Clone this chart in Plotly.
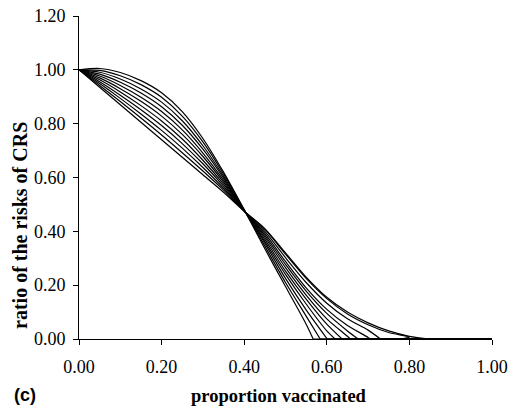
import plotly.graph_objects as go

# proportion vaccinated (x grid) and the family of risk-ratio curves
x_grid = [0.00, 0.05, 0.10, 0.15, 0.20, 0.25, 0.30, 0.35, 0.40, 0.45,
          0.50, 0.55, 0.60, 0.65, 0.70, 0.75, 0.80, 0.85]

curve_0 = [1.000, 1.005, 0.990, 0.960, 0.915, 0.845, 0.745, 0.620, 0.480, 0.335,
           0.195, 0.055]
curve_1 = [1.000, 0.998, 0.978, 0.945, 0.898, 0.828, 0.732, 0.613, 0.480, 0.345,
           0.210, 0.085]
curve_2 = [1.000, 0.991, 0.966, 0.929, 0.880, 0.811, 0.718, 0.605, 0.479, 0.355,
           0.225, 0.108]
curve_3 = [1.000, 0.984, 0.954, 0.914, 0.863, 0.794, 0.705, 0.598, 0.478, 0.362,
           0.240, 0.130, 0.030]
curve_4 = [1.000, 0.977, 0.942, 0.898, 0.845, 0.777, 0.691, 0.590, 0.477, 0.370,
           0.252, 0.148, 0.055]
curve_5 = [1.000, 0.970, 0.930, 0.883, 0.828, 0.760, 0.678, 0.583, 0.477, 0.378,
           0.265, 0.163, 0.075, 0.010]
curve_6 = [1.000, 0.963, 0.918, 0.867, 0.810, 0.743, 0.664, 0.575, 0.476, 0.385,
           0.277, 0.178, 0.095, 0.030]
curve_7 = [1.000, 0.956, 0.906, 0.852, 0.793, 0.726, 0.651, 0.568, 0.476, 0.392,
           0.288, 0.190, 0.110, 0.050, 0.006]
curve_8 = [1.000, 0.949, 0.894, 0.836, 0.775, 0.709, 0.637, 0.560, 0.475, 0.400,
           0.302, 0.210, 0.133, 0.075, 0.033]
curve_9 = [1.000, 0.942, 0.882, 0.821, 0.758, 0.692, 0.624, 0.553, 0.475, 0.407,
           0.315, 0.225, 0.150, 0.093, 0.053, 0.024, 0.007]
curve_10 = [1.000, 0.935, 0.870, 0.805, 0.740, 0.675, 0.610, 0.545, 0.475, 0.410,
            0.320, 0.230, 0.155, 0.100, 0.060, 0.030, 0.010]

curves = [curve_0, curve_1, curve_2, curve_3, curve_4, curve_5,
          curve_6, curve_7, curve_8, curve_9, curve_10]
# where each curve reaches zero
zero_at = [0.567, 0.584, 0.601, 0.620, 0.637, 0.657, 0.676, 0.705, 0.730, 0.780, 0.850]

tick_vals_x = [0.0, 0.2, 0.4, 0.6, 0.8, 1.0]
tick_vals_y = [0.0, 0.2, 0.4, 0.6, 0.8, 1.0, 1.2]

serif = "Liberation Serif, Times New Roman, serif"

fig = go.Figure()
for ys, x0 in zip(curves, zero_at):
    xs = x_grid[:len(ys)] + [x0]
    fig.add_trace(go.Scatter(
        x=xs, y=ys + [0.0], mode="lines",
        line=dict(color="black", width=1.2, shape="spline", smoothing=0.8),
        showlegend=False, hoverinfo="skip",
    ))
    # flat tail along the axis
    fig.add_trace(go.Scatter(
        x=[x0, 1.0], y=[0.0, 0.0], mode="lines",
        line=dict(color="black", width=1.2),
        showlegend=False, hoverinfo="skip",
    ))

fig.update_layout(
    width=509, height=409,
    margin=dict(l=79, r=17, t=16, b=70),
    plot_bgcolor="white", paper_bgcolor="white",
    font=dict(family=serif, color="black", size=18),
    xaxis=dict(
        range=[0, 1], tickvals=tick_vals_x, tickformat=".2f", automargin=False,
        showgrid=False, zeroline=False, showline=True, linecolor="black", linewidth=1,
        ticks="outside", ticklen=5, tickcolor="black", ticklabelstandoff=6,
    ),
    yaxis=dict(
        range=[0, 1.2], tickvals=tick_vals_y, tickformat=".2f", automargin=False,
        showgrid=False, zeroline=False, showline=True, linecolor="black", linewidth=1,
        ticks="outside", ticklen=5, tickcolor="black", ticklabelstandoff=4,
    ),
    annotations=[
        dict(text="<b>proportion vaccinated</b>", x=0.485, y=0, xref="paper", yref="paper",
             yshift=-57, xanchor="center", yanchor="middle", showarrow=False,
             font=dict(size=18.5)),
        dict(text="<b>ratio of the risks of CRS</b>", x=0, y=0.35, xref="paper", yref="paper",
             xshift=-59, textangle=-90, xanchor="center", yanchor="middle", showarrow=False,
             font=dict(size=20)),
        dict(text="<b>(c)</b>", x=0, y=0, xref="paper", yref="paper",
             xshift=-67, yshift=-56, xanchor="left", yanchor="middle", showarrow=False,
             font=dict(family="Liberation Sans, Arial, sans-serif", size=18)),
    ],
)

# drop the default page margin so the figure sits at the window's corner
fig.write_html("out.html", config={"displayModeBar": False},
               post_script="document.body.style.margin='0';")
